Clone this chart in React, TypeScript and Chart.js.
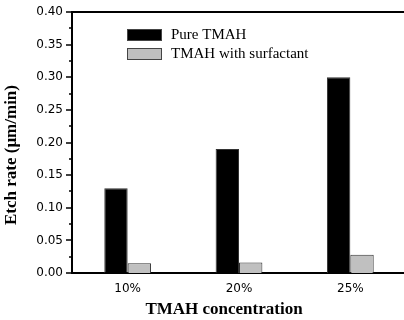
import React, { useEffect, useRef } from 'react';
import { Chart, registerables } from 'chart.js';

Chart.register(...registerables);

const categories = ['10%', '20%', '25%'];
const pureTMAH = [0.13, 0.19, 0.3];
const withSurfactant = [0.015, 0.016, 0.028];
const seriesLabels = ['Pure TMAH', 'TMAH with surfactant'];
const yTickLabels = ['0.00', '0.05', '0.10', '0.15', '0.20', '0.25', '0.30', '0.35', '0.40'];
const yMinorTicks = [0.025, 0.075, 0.125, 0.175, 0.225, 0.275, 0.325, 0.375];
const xTitle = 'TMAH concentration';
const yTitle = 'Etch rate (\u03bcm/min)';

const decor = {
  id: 'decor',
  afterDraw(chart: any) {
    const { ctx, chartArea: a } = chart;
    const y = chart.scales.y;
    ctx.save();
    ctx.strokeStyle = '#000';
    // top frame line
    ctx.lineWidth = 2;
    ctx.beginPath();
    ctx.moveTo(a.left - 1, a.top);
    ctx.lineTo(a.right + 10, a.top);
    ctx.stroke();
    // y tick marks
    ctx.lineWidth = 1.5;
    yTickLabels.forEach((t) => {
      const py = Math.round(y.getPixelForValue(parseFloat(t)));
      ctx.beginPath();
      ctx.moveTo(a.left - 6, py);
      ctx.lineTo(a.left, py);
      ctx.stroke();
    });
    yMinorTicks.forEach((v) => {
      const py = Math.round(y.getPixelForValue(v));
      ctx.beginPath();
      ctx.moveTo(a.left - 3, py);
      ctx.lineTo(a.left, py);
      ctx.stroke();
    });
    // legend
    chart.data.datasets.forEach((ds: any, i: number) => {
      const bx = a.left + 55;
      const by = a.top + 17 + i * 19;
      ctx.fillStyle = ds.backgroundColor;
      ctx.fillRect(bx, by, 35, 12);
      ctx.strokeStyle = '#444';
      ctx.lineWidth = 1;
      ctx.strokeRect(bx + 0.5, by + 0.5, 34, 11);
      ctx.fillStyle = '#000';
      ctx.font = '15px "Liberation Serif"';
      ctx.textBaseline = 'middle';
      ctx.textAlign = 'left';
      ctx.fillText(ds.label, bx + 44, by + 6.5);
    });
    // axis titles
    ctx.fillStyle = '#000';
    ctx.font = 'bold 17px "Liberation Serif"';
    ctx.textAlign = 'center';
    ctx.textBaseline = 'middle';
    ctx.fillText(xTitle, a.left + 152, 310);
    ctx.translate(12, 155);
    ctx.rotate(-Math.PI / 2);
    ctx.fillText(yTitle, 0, 0);
    ctx.restore();
  },
};

export default function App() {
  const ref = useRef<HTMLCanvasElement>(null);
  useEffect(() => {
    if (!ref.current) return;
    const chart = new Chart(ref.current, {
      type: 'bar',
      data: {
        labels: categories,
        datasets: [
          {
            label: seriesLabels[0],
            data: pureTMAH,
            backgroundColor: '#000000',
            borderColor: '#333333',
            borderWidth: 1,
            categoryPercentage: 0.42,
            barPercentage: 1,
          },
          {
            label: seriesLabels[1],
            data: withSurfactant,
            backgroundColor: '#c0c0c0',
            borderColor: '#333333',
            borderWidth: 1,
            categoryPercentage: 0.42,
            barPercentage: 1,
          },
        ],
      },
      options: {
        responsive: false,
        animation: false,
        layout: { padding: { top: 12, right: 6, left: 0, bottom: 0 } },
        plugins: { legend: { display: false }, tooltip: { enabled: false } },
        scales: {
          x: {
            grid: { display: false, drawTicks: false },
            border: { display: true, color: '#000', width: 2 },
            ticks: {
              color: '#000',
              padding: 9,
              font: { family: '"DejaVu Sans"', size: 12 },
            },
            afterFit: (s: any) => {
              s.height = 47;
              s.paddingLeft = 0;
              s.paddingRight = 0;
            },
          },
          y: {
            min: 0,
            max: 0.4,
            grid: { display: false, drawTicks: false },
            border: { display: true, color: '#000', width: 2 },
            ticks: {
              stepSize: 0.05,
              color: '#000',
              padding: 9,
              font: { family: '"DejaVu Sans"', size: 12 },
              callback: (_v: any, i: number) => yTickLabels[i],
            },
            afterFit: (s: any) => {
              s.width = 72;
              s.paddingTop = 0;
              s.paddingBottom = 0;
            },
          },
        },
      },
      plugins: [decor],
    });
    return () => chart.destroy();
  }, []);
  return (
    <div
      style={{
        position: 'fixed',
        left: 0,
        top: 0,
        width: 404,
        height: 320,
        overflow: 'hidden',
        background: '#fff',
      }}
    >
      <canvas ref={ref} width={412} height={320} style={{ width: 412, height: 320, display: 'block' }} />
    </div>
  );
}
